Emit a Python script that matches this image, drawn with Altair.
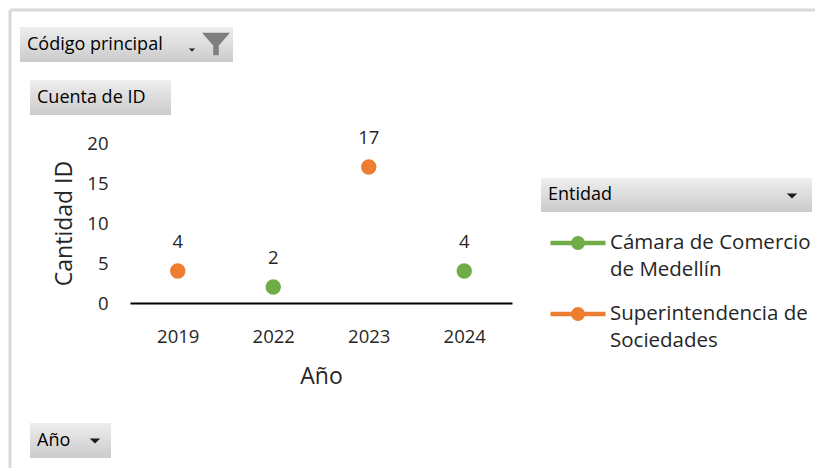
import altair as alt
import pandas as pd

# ---- data ----
years = ["2019", "2022", "2023", "2024"]
entities = ["Superintendencia de Sociedades", "Cámara de Comercio de Medellín",
            "Superintendencia de Sociedades", "Cámara de Comercio de Medellín"]
counts = [4, 2, 17, 4]
series_names = ["Cámara de Comercio de Medellín", "Superintendencia de Sociedades"]
series_colors = ["#70AD47", "#ED7D31"]
legend_lines = {
    "Cámara de Comercio de Medellín": ["Cámara de Comercio", "de Medellín"],
    "Superintendencia de Sociedades": ["Superintendencia de", "Sociedades"],
}
y_ticks = [0, 5, 10, 15, 20]

df = pd.DataFrame({"Año": years, "Entidad": entities, "Cantidad": counts})

FONT = "Open Sans"
TXT = "#262626"

expr = "datum.label == '%s' ? ['%s', '%s'] : ['%s', '%s']" % (
    series_names[0], legend_lines[series_names[0]][0], legend_lines[series_names[0]][1],
    legend_lines[series_names[1]][0], legend_lines[series_names[1]][1])

# line-with-dot legend symbol
legend_symbol = ("M-1,0L1,0M-0.17,0A0.17,0.17,0,1,0,0.17,0"
                 "A0.17,0.17,0,1,0,-0.17,0Z")

def make_legend():
    return alt.Legend(
        title=None, orient="none", legendX=418, legendY=70, padding=0,
        symbolType=legend_symbol, symbolSize=3025, symbolStrokeWidth=4.5,
        labelFont=FONT, labelFontSize=20.5, labelColor=TXT, labelOffset=2, labelLimit=400,
        labelBaseline="middle", rowPadding=3, labelExpr=expr,
    )

color_scale = alt.Scale(domain=series_names, range=series_colors)

x_axis = alt.Axis(title="Año", labelAngle=0, labelFont=FONT, labelFontSize=18.5,
                  labelColor=TXT, labelPadding=24, ticks=False, domainColor="#000000",
                  domainWidth=2, grid=False, titleFont=FONT, titleFontSize=23,
                  titleFontWeight="normal", titleColor=TXT, titlePadding=20)
y_axis = alt.Axis(title="Cantidad ID", values=y_ticks, domain=False, ticks=False,
                  grid=False, labelFont=FONT, labelFontSize=18.5, labelColor=TXT,
                  labelPadding=22, labelOverlap=False, titleFont=FONT,
                  titleFontSize=23, titleFontWeight="normal", titleColor=TXT,
                  titlePadding=10)
x_scale = alt.Scale(type="point", padding=0.5)
y_scale = alt.Scale(domain=[0, 20], nice=False)

base = alt.Chart(df)
points = base.mark_point(filled=True, size=180, opacity=1).encode(
    x=alt.X("Año:O", sort=years, scale=x_scale, axis=x_axis),
    y=alt.Y("Cantidad:Q", scale=y_scale, axis=y_axis),
    color=alt.Color("Entidad:N", scale=color_scale, legend=make_legend()),
    stroke=alt.Stroke("Entidad:N", scale=color_scale, legend=make_legend()),
)
labels = base.mark_text(dy=-29, font=FONT, fontSize=18.5, color=TXT).encode(
    x=alt.X("Año:O", sort=years, scale=x_scale, axis=x_axis),
    y=alt.Y("Cantidad:Q", scale=y_scale, axis=y_axis),
    text="Cantidad:Q")

# ---- decorations (pivot-chart field buttons and frame) ----
grad = alt.Gradient(gradient="linear", x1=0, x2=0, y1=0, y2=1,
                    stops=[alt.GradientStop(color="#eeeeee", offset=0),
                           alt.GradientStop(color="#cbcbcb", offset=1)])

def button(label, x1, x2, y1, y2):
    d = alt.Data(values=[{"t": label}])
    r = alt.Chart(d).mark_rect(fill=grad).encode(
        x=alt.value(x1), x2=alt.value(x2), y=alt.value(y1), y2=alt.value(y2))
    t = alt.Chart(d).mark_text(align="left", baseline="middle", font=FONT, fontSize=18,
                               color="#000000").encode(
        text="t:N", x=alt.value(x1 + 7), y=alt.value((y1 + y2) / 2))
    return [r, t]

one = alt.Data(values=[{"k": 1}])
frame_top = alt.Chart(one).mark_rule(color="#d9d9d9", strokeWidth=3).encode(
    x=alt.value(-120), x2=alt.value(685), y=alt.value(-133))
frame_left = alt.Chart(one).mark_rule(color="#d9d9d9", strokeWidth=3).encode(
    x=alt.value(-120), y=alt.value(-133), y2=alt.value(325))

decor = [frame_top, frame_left]
decor += button("Código principal", -110, 103, -116, -81)
decor += button("Cuenta de ID", -100, 41, -63, -28)
decor += button("Entidad", 411, 682, 35, 69)
decor += button("Año", -100, -19, 280, 315)

flat_tri = "M-1,-0.5L1,-0.5L0,0.5Z"
arrows = [
    alt.Chart(one).mark_point(shape=flat_tri, filled=True, size=110, color="#1a1a1a",
                              opacity=1).encode(x=alt.value(662), y=alt.value(53)),
    alt.Chart(one).mark_point(shape=flat_tri, filled=True, size=110, color="#1a1a1a",
                              opacity=1).encode(x=alt.value(-35), y=alt.value(298)),
    alt.Chart(one).mark_point(shape=flat_tri, filled=True, size=40, color="#1a1a1a",
                              opacity=1).encode(x=alt.value(62), y=alt.value(-93)),
    alt.Chart(one).mark_point(shape="M-1,-0.8L1,-0.8L0.2,0.1L0.2,0.8L-0.2,0.8L-0.2,0.1Z",
                              filled=True, size=784, color="#7f7f7f", opacity=1).encode(
        x=alt.value(86), y=alt.value(-99)),
]

chart = alt.layer(*decor, *arrows, points, labels).properties(
    width=382, height=160,
    autosize=alt.AutoSizeParams(type="none"),
    padding={"left": 130, "top": 143, "right": 303, "bottom": 165},
    background="#ffffff",
).configure(
    style={"guide-label": {"lineHeight": 27}}
).configure_view(stroke=None).configure_axisY(labelOverlap=False)

chart.save("out.html", embed_options={"renderer": "svg", "actions": False})
